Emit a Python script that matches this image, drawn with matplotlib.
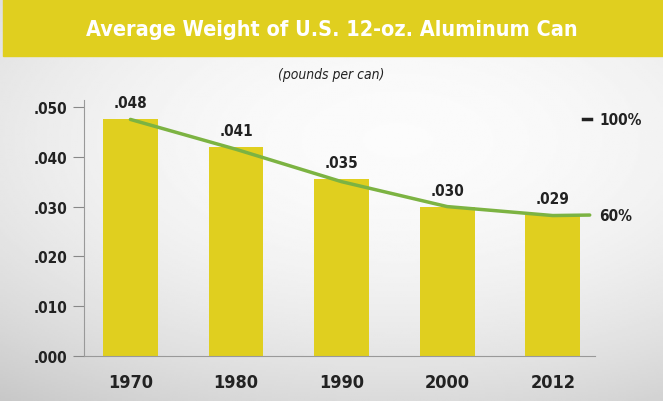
import numpy as np
import matplotlib
matplotlib.use('Agg')
import matplotlib.pyplot as plt
from matplotlib.patches import Rectangle

years = ['1970', '1980', '1990', '2000', '2012']
weights = [0.0475, 0.042, 0.0355, 0.030, 0.0283]
labels = ['.048', '.041', '.035', '.030', '.029']
# green trend line, last point carries on past the 2012 bar
line_x = [0, 1, 2, 3, 4, 4.35]
line_y = [0.0475, 0.0415, 0.035, 0.030, 0.0282, 0.0283]
yticks = [0, 0.01, 0.02, 0.03, 0.04, 0.05]
ytick_labels = ['.000', '.010', '.020', '.030', '.040', '.050']

yellow = '#e0cf1f'
green = '#7cb342'
ink = '#222222'
plt.rcParams['font.family'] = ['DejaVu Sans']
plt.rcParams['font.stretch'] = 'condensed'

fig = plt.figure(figsize=(6.63, 4.02), dpi=100)

# soft grey/white background gradient
bg = fig.add_axes([0, 0, 1, 1])
yy, xx = np.mgrid[0:1:200j, 0:1:330j]
r = np.sqrt(((xx - 0.6) / 0.9) ** 2 + ((yy - 0.35) / 0.75) ** 2)
bg.imshow(0.985 - 0.17 * r ** 2, cmap='gray', vmin=0, vmax=1, aspect='auto',
          extent=[0, 1, 0, 1], origin='upper')
bg.set_axis_off()

fig.patches.append(Rectangle((3 / 663, 1 - 57 / 402), 1, 57 / 402, transform=fig.transFigure,
                             color=yellow, zorder=1))
fig.text(0.5, 1 - 30 / 402, 'Average Weight of U.S. 12-oz. Aluminum Can', color='white',
         fontsize=15.5, fontweight='bold', ha='center', va='center')
fig.text(0.5, 1 - 75 / 402, '(pounds per can)', color=ink, fontsize=10, style='italic',
         ha='center', va='center')

ax = fig.add_axes([84 / 663, 45 / 402, 511 / 663, 256.5 / 402])
ax.patch.set_alpha(0)
x = np.arange(len(years))
ax.bar(x, weights, width=0.52, color=yellow, zorder=2)
for xi, w, lab in zip(x, weights, labels):
    ax.text(xi, w + 0.0018, lab, ha='center', va='bottom', fontsize=11, fontweight='bold', color=ink)
ax.plot(line_x, line_y, color=green, lw=2.5, zorder=3, solid_capstyle='round')

ax.set_xlim(-0.44, 4.4)
ax.set_ylim(0, 0.0515)
ax.set_xticks(x)
ax.set_xticklabels(years, fontsize=13, fontweight='bold', color=ink)
ax.tick_params(axis='x', length=0, pad=12)
ax.set_yticks(yticks)
ax.set_yticklabels(ytick_labels, fontsize=11, fontweight='bold', color=ink)
ax.tick_params(axis='y', length=8, color='#888888', pad=4)
for s in ['top', 'right']:
    ax.spines[s].set_visible(False)
for s in ['left', 'bottom']:
    ax.spines[s].set_color('#999999')

ax.plot([4.29, 4.36], [0.0475, 0.0475], color=ink, lw=2.5, clip_on=False)
ax.text(4.44, 0.0475, '100%', ha='left', va='center', fontsize=11, fontweight='bold',
        color=ink, clip_on=False)
ax.text(4.44, 0.0283, '60%', ha='left', va='center', fontsize=11, fontweight='bold',
        color=ink, clip_on=False)

fig.savefig('out.png', dpi=100)
